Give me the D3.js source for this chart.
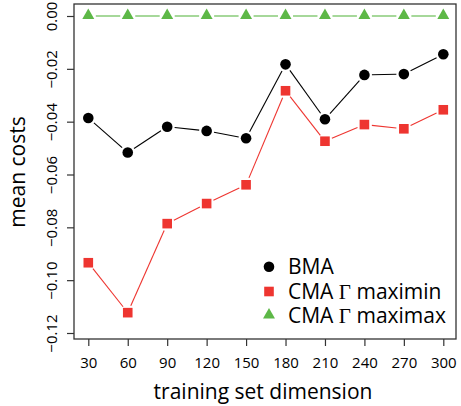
<!DOCTYPE html>
<html>
<head>
<meta charset="utf-8">
<script src="https://cdn.jsdelivr.net/npm/d3@7"></script>
<style>
  html, body { margin: 0; padding: 0; background: #fff; }
  svg { display: block; }
  text { font-family: "Open Sans", "DejaVu Sans", sans-serif; fill: #000; }
</style>
</head>
<body>
<svg id="chart" width="461" height="406"></svg>
<script>
// Training set sizes on the x axis
const dims = [30, 60, 90, 120, 150, 180, 210, 240, 270, 300];

// Mean costs per method
const bma     = [-0.0386, -0.0517, -0.0419, -0.0435, -0.0463, -0.0183, -0.0391, -0.0223, -0.0220, -0.0145];
const maximin = [-0.0934, -0.1123, -0.0786, -0.0710, -0.0639, -0.0283, -0.0474, -0.0411, -0.0427, -0.0355];
const maximax = [0, 0, 0, 0, 0, 0, 0, 0, 0, 0];

// Tick labels
const xTicks = [30, 60, 90, 120, 150, 180, 210, 240, 270, 300];
const yTicks = [0, -0.02, -0.04, -0.06, -0.08, -0.10, -0.12];

const series = [
  { name: "BMA",     values: bma,     color: "#000000", shape: "circle" },
  { name: "maximin", values: maximin, color: "#EE3530", shape: "square" },
  { name: "maximax", values: maximax, color: "#5DB847", shape: "triangle" }
];

const svg = d3.select("#chart");
const box = { left: 74, right: 456, top: 4, bottom: 339 };

const x = d3.scaleLinear().domain([30, 300]).range([88.3, 443.3]);
const y = d3.scaleLinear().domain([-0.12, 0]).range([333, 16]);

// plot frame
svg.append("rect")
  .attr("x", box.left).attr("y", box.top)
  .attr("width", box.right - box.left).attr("height", box.bottom - box.top)
  .attr("fill", "none").attr("stroke", "#333").attr("stroke-width", 1.3);

// x axis
const xAxis = svg.append("g")
  .attr("transform", `translate(0,${box.bottom})`)
  .call(d3.axisBottom(x).tickValues(xTicks).tickSize(7).tickPadding(11).tickFormat(d3.format("d")));
xAxis.select(".domain").remove();
xAxis.selectAll("line").attr("stroke", "#333").attr("stroke-width", 1.2);
xAxis.selectAll("text").style("font-size", "15px").attr("fill", "#000");

// y axis with rotated labels
const yAxis = svg.append("g")
  .attr("transform", `translate(${box.left},0)`)
  .call(d3.axisLeft(y).tickValues(yTicks).tickSize(7).tickFormat(d => d3.format(".2f")(d).replace("-", "\u2212")));
yAxis.select(".domain").remove();
yAxis.selectAll("line").attr("stroke", "#333").attr("stroke-width", 1.2);
yAxis.selectAll("text")
  .style("font-size", "15px")
  .attr("fill", "#000")
  .attr("x", null).attr("dy", null)
  .attr("text-anchor", "middle")
  .attr("transform", "translate(-22,0) rotate(-90)")
  .attr("y", 0).attr("dy", "0.35em");

// axis titles
svg.append("text")
  .attr("x", 263).attr("y", 399)
  .attr("text-anchor", "middle")
  .style("font-size", "21px")
  .text("training set dimension");

svg.append("text")
  .attr("transform", "translate(25,172) rotate(-90)")
  .attr("text-anchor", "middle")
  .style("font-size", "21px")
  .text("mean costs");

// marker drawing
function drawMarker(g, shape, color, cx, cy) {
  if (shape === "circle") {
    g.append("circle").attr("cx", cx).attr("cy", cy).attr("r", 5.3).attr("fill", color);
  } else if (shape === "square") {
    g.append("rect").attr("x", cx - 4.8).attr("y", cy - 4.8).attr("width", 9.6).attr("height", 9.6).attr("fill", color);
  } else {
    g.append("path")
      .attr("d", d3.symbol().type(d3.symbolTriangle).size(62)())
      .attr("transform", `translate(${cx},${cy - 0.5})`)
      .attr("fill", color);
  }
}

// lines with gaps around each point, then markers
const gap = 7.5;
series.forEach(s => {
  const g = svg.append("g");
  const pts = s.values.map((v, i) => [x(dims[i]), y(v)]);
  for (let i = 0; i < pts.length - 1; i++) {
    const [x0, y0] = pts[i], [x1, y1] = pts[i + 1];
    const len = Math.hypot(x1 - x0, y1 - y0);
    if (len <= 2 * gap) continue;
    const ux = (x1 - x0) / len, uy = (y1 - y0) / len;
    g.append("line")
      .attr("x1", x0 + ux * gap).attr("y1", y0 + uy * gap)
      .attr("x2", x1 - ux * gap).attr("y2", y1 - uy * gap)
      .attr("stroke", s.color).attr("stroke-width", 1.1);
  }
  pts.forEach(p => drawMarker(g, s.shape, s.color, p[0], p[1]));
});

// legend
const legend = svg.append("g");
const rows = [
  { label: ["BMA"], s: series[0] },
  { label: ["CMA ", "\u0393", " maximin"], s: series[1] },
  { label: ["CMA ", "\u0393", " maximax"], s: series[2] }
];
const legY = [266.7, 291.5, 315.5];
rows.forEach((r, i) => {
  const gg = legend.append("g");
  drawMarker(gg, r.s.shape, r.s.color, 269, legY[i]);
  const t = legend.append("text")
    .attr("x", 288).attr("y", legY[i]).attr("dy", "0.35em")
    .style("font-size", "21px");
  r.label.forEach(part => {
    const ts = t.append("tspan").text(part);
    if (part === "\u0393") ts.style("font-family", "'Liberation Serif', serif");
  });
});
</script>
</body>
</html>
